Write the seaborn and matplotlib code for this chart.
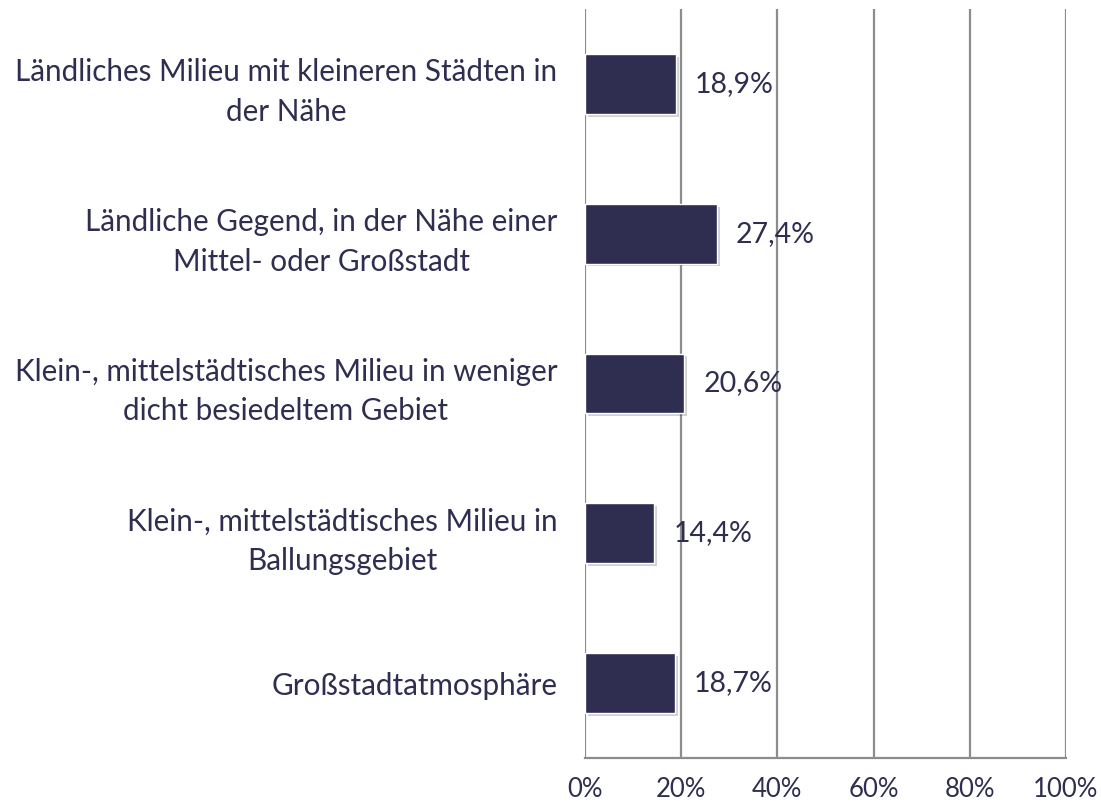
import matplotlib
matplotlib.use("Agg")
import matplotlib.pyplot as plt
import matplotlib.patheffects as pe
import seaborn as sns
import pandas as pd

categories = [
    "Ländliches Milieu mit kleineren Städten in\nder Nähe",
    "Ländliche Gegend, in der Nähe einer\nMittel- oder Großstadt",
    "Klein-, mittelstädtisches Milieu in weniger\ndicht besiedeltem Gebiet",
    "Klein-, mittelstädtisches Milieu in\nBallungsgebiet",
    "Großstadtatmosphäre",
]
values = [18.9, 27.4, 20.6, 14.4, 18.7]
value_labels = ["18,9%", "27,4%", "20,6%", "14,4%", "18,7%"]
x_ticks = [0, 20, 40, 60, 80, 100]
x_ticklabels = ["0%", "20%", "40%", "60%", "80%", "100%"]

navy = "#2F2E50"
grid = "#8C8C8C"

sns.set_theme(style="white")
plt.rcParams["font.family"] = ["Lato", "DejaVu Sans"]

df = pd.DataFrame({"cat": categories, "val": values})

fig = plt.figure(figsize=(11.01, 8.06), dpi=100)
ax = fig.add_axes([585 / 1101, 1 - 758 / 806, (1066 - 585) / 1101, (758 - 9) / 806])

sns.barplot(data=df, y="cat", x="val", orient="h", color=navy, width=0.4,
            saturation=1, ax=ax, zorder=3)
for p in ax.patches:
    p.set_path_effects([pe.SimplePatchShadow(offset=(2, -2), shadow_rgbFace="#000000", alpha=0.18),
                        pe.Normal()])

ax.set_xlim(0, 100)
ax.set_xticks(x_ticks)
ax.set_xticklabels(x_ticklabels)
ax.set_xlabel("")
ax.set_ylabel("")

for x in x_ticks:
    ax.axvline(x, color=grid, lw=1.6, zorder=1)

for i, (v, lab) in enumerate(zip(values, value_labels)):
    ax.text(v + 4.0, i, lab, va="center", ha="left", fontsize=20.5, color=navy, zorder=4)

for s in ["top", "right", "left"]:
    ax.spines[s].set_visible(False)
ax.spines["bottom"].set_color(grid)
ax.spines["bottom"].set_linewidth(1.6)

ax.tick_params(axis="x", length=0, pad=13.5, labelsize=18.5, colors=navy)
ax.tick_params(axis="y", length=0, pad=20, labelsize=21.3, colors=navy)
for t in ax.get_yticklabels():
    t.set_multialignment("center")
    t.set_linespacing(1.5)

fig.savefig("out.png", dpi=100)
